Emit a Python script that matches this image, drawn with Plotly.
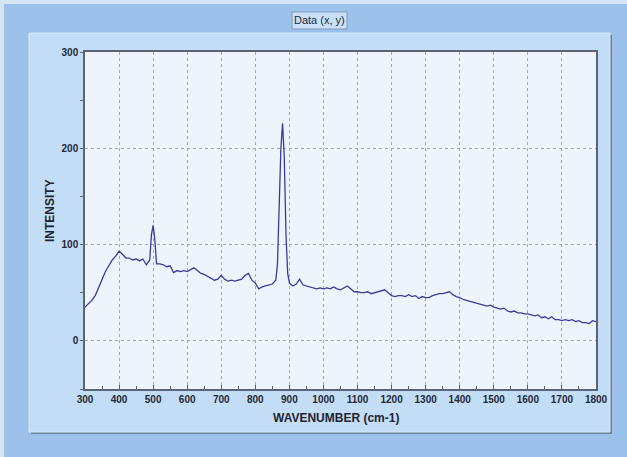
import plotly.graph_objects as go

wavenumber = [300, 310, 320, 330, 340, 350, 360, 370, 380, 390, 400, 410, 420, 430, 440, 450, 460, 470, 480, 490,
              495, 500, 505, 510, 520, 530, 540, 550, 560, 570, 580, 590, 600, 610, 620, 630, 640, 650, 660, 670,
              680, 690, 700, 710, 720, 730, 740, 750, 760, 770, 780, 790, 800, 810, 820, 830, 840, 850, 860, 865,
              870, 875, 880, 885, 890, 895, 900, 910, 920, 930, 940, 950, 960, 970, 980, 990, 1000, 1010, 1020,
              1030, 1040, 1050, 1060, 1070, 1080, 1090, 1100, 1110, 1120, 1130, 1140, 1150, 1160, 1170, 1180, 1190,
              1200, 1210, 1220, 1230, 1240, 1250, 1260, 1270, 1280, 1290, 1300, 1310, 1320, 1330, 1340, 1350, 1360,
              1370, 1380, 1390, 1400, 1410, 1420, 1430, 1440, 1450, 1460, 1470, 1480, 1490, 1500, 1510, 1520, 1530,
              1540, 1550, 1560, 1570, 1580, 1590, 1600, 1610, 1620, 1630, 1640, 1650, 1660, 1670, 1680, 1690, 1700,
              1710, 1720, 1730, 1740, 1750, 1760, 1770, 1780, 1790, 1800]
intensity = [35, 38, 42, 47, 55, 64, 72, 78, 84, 88, 93, 90, 86, 86, 84, 85, 83, 85, 79, 84,
             110, 120, 105, 80, 80, 79, 77, 78, 71, 73, 72, 73, 72, 74, 76, 73, 70, 69, 67, 65,
             63, 64, 68, 64, 62, 63, 62, 63, 64, 68, 70, 63, 60, 54, 56, 57, 58, 59, 63, 80,
             140, 200, 226, 190, 110, 70, 60, 57, 59, 64, 58, 57, 56, 55, 54, 55, 54, 55, 54,
             56, 54, 53, 55, 57, 54, 51, 51, 50, 50, 51, 49, 50, 51, 52, 53, 50,
             47, 46, 47, 47, 46, 48, 46, 47, 44, 46, 45, 45, 47, 48, 49, 49, 50,
             51, 48, 46, 45, 43, 42, 41, 40, 39, 38, 37, 36, 37, 35, 34, 33, 34,
             31, 30, 31, 29, 29, 28, 28, 27, 26, 27, 24, 25, 23, 25, 22, 22, 21,
             22, 21, 22, 20, 21, 19, 19, 18, 21, 20]

chart_title = "Data (x, y)"
x_title = "WAVENUMBER (cm-1)"
y_title = "INTENSITY"

W, H = 627, 457
L, R, T, B = 85, 31, 52, 68
pw, ph = W - L - R, H - T - B


def px(xp):
    return (xp - L) / pw


def py(yp):
    return (H - B - yp) / ph


fig = go.Figure()
fig.add_trace(go.Scatter(x=wavenumber, y=intensity, mode="lines",
                         line=dict(color="#3a3c9c", width=1.3), showlegend=False))

shapes = [
    dict(type="rect", xref="paper", yref="paper", x0=px(0), x1=px(W), y0=py(0), y1=py(4),
         fillcolor="#d6e6f7", line=dict(width=0), layer="below"),
    dict(type="rect", xref="paper", yref="paper", x0=px(0), x1=px(4), y0=py(0), y1=py(H),
         fillcolor="#d6e6f7", line=dict(width=0), layer="below"),
    dict(type="rect", xref="paper", yref="paper", x0=px(31), x1=px(612), y0=py(35), y1=py(434),
         fillcolor="#6f8196", line=dict(width=0), layer="below"),
    dict(type="rect", xref="paper", yref="paper", x0=px(29), x1=px(610), y0=py(33), y1=py(432),
         fillcolor="#c4ddf6", line=dict(color="#d9e9f9", width=1), layer="below"),
    # plot area background
    dict(type="rect", xref="paper", yref="paper", x0=0, x1=1, y0=0, y1=1,
         fillcolor="#eef4fc", line=dict(width=0), layer="below"),
    dict(type="rect", xref="paper", yref="paper", x0=px(292), x1=px(347), y0=py(12), y1=py(29),
         fillcolor="#c9e0f7", line=dict(color="#7f99b8", width=1)),
]

annotations = [
    dict(text=chart_title, xref="paper", yref="paper", x=px(319.5), y=py(20.5),
         showarrow=False, font=dict(family="Liberation Sans, Arial", size=11, color="#1c2a44"),
         xanchor="center", yanchor="middle"),
    dict(text=x_title, xref="paper", yref="paper", x=px(336), y=py(418),
         showarrow=False, font=dict(family="Liberation Sans, Arial", size=12, color="#1c2533", weight="bold"),
         xanchor="center", yanchor="middle"),
    dict(text=y_title, xref="paper", yref="paper", x=px(50), y=py(211),
         showarrow=False, textangle=-90,
         font=dict(family="Liberation Sans, Arial", size=12, color="#1c2533", weight="bold"),
         xanchor="center", yanchor="middle"),
]

tickfont = dict(family="Liberation Sans, Arial", size=10, color="#1e2836", weight="bold")

fig.update_layout(
    width=W, height=H,
    margin=dict(l=L, r=R, t=T, b=B, pad=0),
    paper_bgcolor="#9cc2ec",
    plot_bgcolor="#eef4fc",
    shapes=shapes,
    annotations=annotations,
    xaxis=dict(range=[300, 1800], tick0=300, dtick=100, showgrid=True,
               gridcolor="#a4aab2", griddash="dot", gridwidth=1,
               showline=True, linecolor="#5a6472", linewidth=1.5, mirror=True,
               ticks="inside", ticklen=4, tickcolor="#5a6472",
               minor=dict(dtick=50, tick0=300, ticks="inside", ticklen=3, tickcolor="#5a6472", showgrid=False),
               tickfont=tickfont, zeroline=False, fixedrange=True),
    yaxis=dict(range=[-50, 300], tick0=0, dtick=100, showgrid=True,
               gridcolor="#a4aab2", griddash="dot", gridwidth=1,
               showline=True, linecolor="#5a6472", linewidth=1.5, mirror=True,
               ticks="outside", ticklen=3, tickcolor="#5a6472",
               minor=dict(dtick=50, tick0=0, ticks="outside", ticklen=3, tickcolor="#5a6472", showgrid=False),
               tickfont=tickfont, zeroline=False, fixedrange=True),
)

fig.write_html("out.html")
